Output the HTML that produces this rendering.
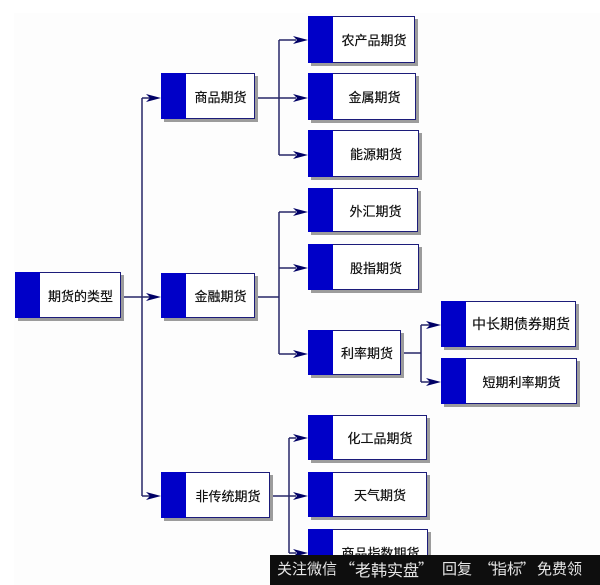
<!DOCTYPE html>
<html><head><meta charset="utf-8">
<style>
html,body{margin:0;padding:0;}
body{width:600px;height:585px;position:relative;overflow:hidden;background:#fff;font-family:"Liberation Sans","Noto Sans CJK SC",sans-serif;}
.bg{position:absolute;left:14px;top:13px;width:586px;height:572px;background:#fdfdfd;}
.b{position:absolute;box-sizing:border-box;border:1.5px solid #1c1c7a;background:#fff;box-shadow:3px 3px 0 #9c9c9c;display:flex;align-items:center;justify-content:center;padding-left:25px;font-size:13px;color:#111;white-space:nowrap;text-shadow:0 0 0.4px #111;}
.b::before{content:"";position:absolute;left:-1px;top:-1px;bottom:-1px;width:25px;background:#0000c8;}
svg{position:absolute;left:0;top:0;}
.band{position:absolute;left:270px;top:555px;width:330px;height:30px;background:#0e0e0e;}
.w{position:absolute;top:558px;font-size:15px;line-height:22px;color:#e6e6e6;font-family:"Noto Sans CJK SC","Liberation Sans",sans-serif;white-space:nowrap;}
</style></head><body>
<div class="bg"></div>
<svg width="600" height="585" viewBox="0 0 600 585">
<g stroke="#262668" stroke-width="1.5" fill="none">
<line x1="121" y1="297" x2="150" y2="297"/>
<line x1="142" y1="98" x2="142" y2="496"/>
<line x1="142" y1="98" x2="150" y2="98"/>
<line x1="142" y1="496" x2="150" y2="496"/>
<line x1="255" y1="98" x2="296" y2="98"/>
<line x1="279" y1="40" x2="279" y2="155"/>
<line x1="279" y1="40" x2="296" y2="40"/>
<line x1="279" y1="155" x2="296" y2="155"/>
<line x1="255" y1="297" x2="279" y2="297"/>
<line x1="279" y1="212" x2="279" y2="354"/>
<line x1="279" y1="212" x2="296" y2="212"/>
<line x1="279" y1="268" x2="296" y2="268"/>
<line x1="279" y1="354" x2="296" y2="354"/>
<line x1="401" y1="353" x2="421" y2="353"/>
<line x1="421" y1="325" x2="421" y2="382"/>
<line x1="421" y1="325" x2="430" y2="325"/>
<line x1="421" y1="382" x2="430" y2="382"/>
<line x1="270" y1="496" x2="296" y2="496"/>
<line x1="289" y1="438" x2="289" y2="553"/>
<line x1="289" y1="438" x2="296" y2="438"/>
<line x1="289" y1="553" x2="296" y2="553"/>
</g>
<g fill="#000066">
<polygon points="161,98 146,94 150,98 146,102"/>
<polygon points="161,297 146,293 150,297 146,301"/>
<polygon points="161,496 146,492 150,496 146,500"/>
<polygon points="308,40 293,36 297,40 293,44"/>
<polygon points="308,98 293,94 297,98 293,102"/>
<polygon points="308,155 293,151 297,155 293,159"/>
<polygon points="308,212 293,208 297,212 293,216"/>
<polygon points="308,268 293,264 297,268 293,272"/>
<polygon points="308,354 293,350 297,354 293,358"/>
<polygon points="441,325 426,321 430,325 426,329"/>
<polygon points="441,382 426,378 430,382 426,386"/>
<polygon points="308,438 293,434 297,438 293,442"/>
<polygon points="308,496 293,492 297,496 293,500"/>
<polygon points="308,553 293,549 297,553 293,557"/>
</g>
</svg>

<div class="b" style="left:15px;top:272px;width:106px;height:46px;">期货的类型</div>
<div class="b" style="left:161px;top:73px;width:94px;height:46px;">商品期货</div>
<div class="b" style="left:161px;top:273px;width:94px;height:45px;">金融期货</div>
<div class="b" style="left:161px;top:472px;width:109px;height:46px;">非传统期货</div>

<div class="b" style="left:308px;top:16px;width:107px;height:47px;">农产品期货</div>
<div class="b" style="left:308px;top:73px;width:108px;height:47px;">金属期货</div>
<div class="b" style="left:308px;top:130px;width:111px;height:47px;">能源期货</div>
<div class="b" style="left:308px;top:188px;width:110px;height:44px;">外汇期货</div>
<div class="b" style="left:308px;top:244px;width:111px;height:46px;">股指期货</div>
<div class="b" style="left:308px;top:330px;width:93px;height:45px;">利率期货</div>
<div class="b" style="left:441px;top:301px;width:135px;height:46px;font-size:14px;">中长期债券期货</div>
<div class="b" style="left:441px;top:358px;width:136px;height:46px;">短期利率期货</div>
<div class="b" style="left:308px;top:415px;width:119px;height:45px;">化工品期货</div>
<div class="b" style="left:308px;top:472px;width:119px;height:45px;">天气期货</div>
<div class="b" style="left:308px;top:529px;width:120px;height:46px;">商品指数期货</div>

<div class="band"></div>
<div class="w" style="left:277px;">关注微信</div>
<div class="w" style="left:340px;">“</div>
<div class="w" style="left:355px;font-size:16px;">老韩实盘</div>
<div class="w" style="left:418px;">”</div>
<div class="w" style="left:442px;">回复</div>
<div class="w" style="left:479px;">“</div>
<div class="w" style="left:492px;">指标</div>
<div class="w" style="left:520px;">”</div>
<div class="w" style="left:537px;">免费领</div>
</body></html>
